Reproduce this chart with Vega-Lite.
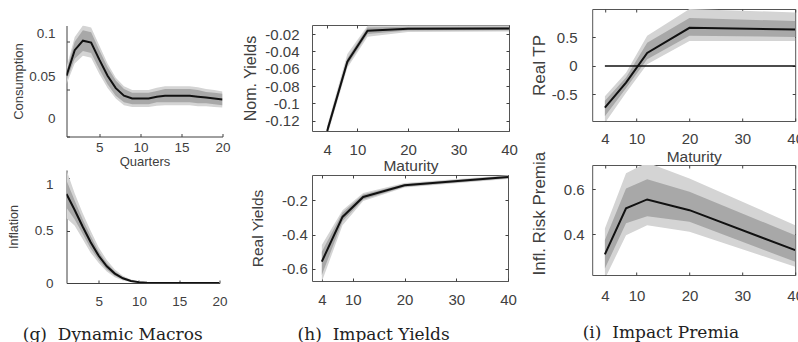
{
  "$schema": "https://vega.github.io/schema/vega-lite/v6.json",
  "background": "white",
  "padding": {"left": 7.5, "top": 8, "right": 0, "bottom": 0},
  "autosize": {"type": "pad"},
  "config": {
    "font": "Liberation Sans",
    "axis": {"labelFont": "Liberation Sans", "titleFont": "Liberation Sans", "labelColor": "#404040", "titleColor": "#404040", "titleFontWeight": "normal", "grid": false, "tickColor": "#404040", "domainColor": "#404040", "tickSize": -3, "labelFlush": false, "labelOverlap": false},
    "title": {"font": "DejaVu Serif", "fontWeight": "normal", "color": "#222222", "fontSize": 17, "dx": -6},
    "view": {"stroke": null}
  },
  "datasets": {
    "cons": [
      {"q": 1, "m": 0.064, "lo1": 0.059, "hi1": 0.069, "lo2": 0.055, "hi2": 0.073},
      {"q": 2, "m": 0.091, "lo1": 0.082, "hi1": 0.100, "lo2": 0.077, "hi2": 0.105},
      {"q": 3, "m": 0.101, "lo1": 0.090, "hi1": 0.112, "lo2": 0.085, "hi2": 0.117},
      {"q": 4, "m": 0.099, "lo1": 0.088, "hi1": 0.110, "lo2": 0.083, "hi2": 0.115},
      {"q": 5, "m": 0.081, "lo1": 0.071, "hi1": 0.091, "lo2": 0.066, "hi2": 0.096},
      {"q": 6, "m": 0.064, "lo1": 0.055, "hi1": 0.073, "lo2": 0.051, "hi2": 0.077},
      {"q": 7, "m": 0.051, "lo1": 0.043, "hi1": 0.059, "lo2": 0.040, "hi2": 0.062},
      {"q": 8, "m": 0.043, "lo1": 0.036, "hi1": 0.050, "lo2": 0.033, "hi2": 0.053},
      {"q": 9, "m": 0.040, "lo1": 0.034, "hi1": 0.046, "lo2": 0.031, "hi2": 0.049},
      {"q": 10, "m": 0.040, "lo1": 0.034, "hi1": 0.046, "lo2": 0.031, "hi2": 0.049},
      {"q": 11, "m": 0.040, "lo1": 0.034, "hi1": 0.046, "lo2": 0.031, "hi2": 0.049},
      {"q": 12, "m": 0.042, "lo1": 0.036, "hi1": 0.048, "lo2": 0.0325, "hi2": 0.0515},
      {"q": 13, "m": 0.043, "lo1": 0.036, "hi1": 0.050, "lo2": 0.033, "hi2": 0.053},
      {"q": 14, "m": 0.043, "lo1": 0.036, "hi1": 0.050, "lo2": 0.033, "hi2": 0.053},
      {"q": 15, "m": 0.043, "lo1": 0.036, "hi1": 0.050, "lo2": 0.033, "hi2": 0.053},
      {"q": 16, "m": 0.043, "lo1": 0.036, "hi1": 0.050, "lo2": 0.033, "hi2": 0.053},
      {"q": 17, "m": 0.042, "lo1": 0.035, "hi1": 0.049, "lo2": 0.032, "hi2": 0.052},
      {"q": 18, "m": 0.041, "lo1": 0.035, "hi1": 0.047, "lo2": 0.032, "hi2": 0.050},
      {"q": 19, "m": 0.040, "lo1": 0.034, "hi1": 0.046, "lo2": 0.031, "hi2": 0.049},
      {"q": 20, "m": 0.039, "lo1": 0.033, "hi1": 0.045, "lo2": 0.0305, "hi2": 0.0475}
    ],
    "infl": [
      {"q": 1, "m": 0.85, "lo1": 0.72, "hi1": 0.98, "lo2": 0.62, "hi2": 1.08},
      {"q": 2, "m": 0.70, "lo1": 0.61, "hi1": 0.79, "lo2": 0.55, "hi2": 0.86},
      {"q": 3, "m": 0.54, "lo1": 0.47, "hi1": 0.61, "lo2": 0.42, "hi2": 0.67},
      {"q": 4, "m": 0.39, "lo1": 0.33, "hi1": 0.45, "lo2": 0.29, "hi2": 0.50},
      {"q": 5, "m": 0.26, "lo1": 0.22, "hi1": 0.30, "lo2": 0.19, "hi2": 0.34},
      {"q": 6, "m": 0.16, "lo1": 0.13, "hi1": 0.19, "lo2": 0.11, "hi2": 0.22},
      {"q": 7, "m": 0.09, "lo1": 0.07, "hi1": 0.11, "lo2": 0.055, "hi2": 0.13},
      {"q": 8, "m": 0.045, "lo1": 0.034, "hi1": 0.058, "lo2": 0.025, "hi2": 0.07},
      {"q": 9, "m": 0.02, "lo1": 0.014, "hi1": 0.027, "lo2": 0.009, "hi2": 0.034},
      {"q": 10, "m": 0.008, "lo1": 0.005, "hi1": 0.012, "lo2": 0.003, "hi2": 0.016},
      {"q": 11, "m": 0.003, "lo1": 0.001, "hi1": 0.005, "lo2": 0, "hi2": 0.007},
      {"q": 12, "m": 0.001, "lo1": 0, "hi1": 0.002, "lo2": 0, "hi2": 0.003},
      {"q": 13, "m": 0, "lo1": 0, "hi1": 0.0005, "lo2": 0, "hi2": 0.001},
      {"q": 14, "m": 0, "lo1": 0, "hi1": 0, "lo2": 0, "hi2": 0},
      {"q": 15, "m": 0, "lo1": 0, "hi1": 0, "lo2": 0, "hi2": 0},
      {"q": 16, "m": 0, "lo1": 0, "hi1": 0, "lo2": 0, "hi2": 0},
      {"q": 17, "m": 0, "lo1": 0, "hi1": 0, "lo2": 0, "hi2": 0},
      {"q": 18, "m": 0, "lo1": 0, "hi1": 0, "lo2": 0, "hi2": 0},
      {"q": 19, "m": 0, "lo1": 0, "hi1": 0, "lo2": 0, "hi2": 0},
      {"q": 20, "m": 0, "lo1": 0, "hi1": 0, "lo2": 0, "hi2": 0}
    ],
    "nom": [
      {"mat": 4, "m": -0.132, "lo1": -0.136, "hi1": -0.128, "lo2": -0.138, "hi2": -0.126},
      {"mat": 8, "m": -0.052, "lo1": -0.056, "hi1": -0.048, "lo2": -0.059, "hi2": -0.043},
      {"mat": 12, "m": -0.0162, "lo1": -0.020, "hi1": -0.0125, "lo2": -0.023, "hi2": -0.0105},
      {"mat": 20, "m": -0.0137, "lo1": -0.016, "hi1": -0.0115, "lo2": -0.0175, "hi2": -0.010},
      {"mat": 40, "m": -0.0135, "lo1": -0.0155, "hi1": -0.0115, "lo2": -0.017, "hi2": -0.010}
    ],
    "real": [
      {"mat": 4, "m": -0.557, "lo1": -0.635, "hi1": -0.50, "lo2": -0.674, "hi2": -0.461},
      {"mat": 8, "m": -0.297, "lo1": -0.322, "hi1": -0.272, "lo2": -0.345, "hi2": -0.258},
      {"mat": 12, "m": -0.181, "lo1": -0.196, "hi1": -0.166, "lo2": -0.205, "hi2": -0.158},
      {"mat": 20, "m": -0.113, "lo1": -0.121, "hi1": -0.105, "lo2": -0.126, "hi2": -0.100},
      {"mat": 40, "m": -0.065, "lo1": -0.072, "hi1": -0.058, "lo2": -0.076, "hi2": -0.055}
    ],
    "tp": [
      {"mat": 4, "m": -0.73, "lo1": -0.88, "hi1": -0.61, "lo2": -1.0, "hi2": -0.53},
      {"mat": 8, "m": -0.29, "lo1": -0.39, "hi1": -0.20, "lo2": -0.47, "hi2": -0.12},
      {"mat": 12, "m": 0.23, "lo1": 0.12, "hi1": 0.41, "lo2": 0.03, "hi2": 0.53},
      {"mat": 20, "m": 0.67, "lo1": 0.53, "hi1": 0.84, "lo2": 0.44, "hi2": 1.0},
      {"mat": 40, "m": 0.64, "lo1": 0.51, "hi1": 0.79, "lo2": 0.44, "hi2": 0.94}
    ],
    "irp": [
      {"mat": 4, "m": 0.309, "lo1": 0.246, "hi1": 0.373, "lo2": 0.20, "hi2": 0.425},
      {"mat": 8, "m": 0.515, "lo1": 0.448, "hi1": 0.604, "lo2": 0.395, "hi2": 0.672},
      {"mat": 12, "m": 0.555, "lo1": 0.48, "hi1": 0.645, "lo2": 0.44, "hi2": 0.72},
      {"mat": 20, "m": 0.507, "lo1": 0.455, "hi1": 0.589, "lo2": 0.41, "hi2": 0.649},
      {"mat": 40, "m": 0.328, "lo1": 0.276, "hi1": 0.395, "lo2": 0.254, "hi2": 0.44}
    ],
    "zero": [{"mat": 4, "mat2": 40, "m": 0}],
    "blank": [{"e": 0}]
  },
  "hconcat": [
    {
      "spacing": 10.5,
      "hconcat": [
        {
          "title": {"text": "(g)\u00a0 Dynamic Macros", "orient": "bottom", "anchor": "middle", "offset": 19.5},
          "spacing": 1.5,
          "vconcat": [
            {"width": 150, "height": 14.5, "data": {"name": "blank"}, "mark": {"type": "point", "opacity": 0, "size": 1}},
            {
              "width": 156, "height": 111,
              "data": {"name": "cons"},
              "encoding": {"x": {"field": "q", "type": "quantitative", "title": "Quarters", "scale": {"domain": [1, 20], "nice": false, "zero": false}, "axis": {"values": [5, 10, 15, 20], "labelOverlap": false, "labelFontSize": 13.5, "titleFontSize": 13, "labelPadding": 7, "minExtent": 12, "maxExtent": 12, "titlePadding": 7}}},
              "layer": [
                {"mark": {"type": "area", "color": "#d4d4d4", "clip": true}, "encoding": {"y": {"field": "lo2", "type": "quantitative", "title": "Consumption", "scale": {"domain": [0, 0.117], "nice": false, "zero": false}, "axis": {"values": [0, 0.05, 0.1], "format": "~g", "labelOverlap": false, "labelFontSize": 13.5, "titleFontSize": 13, "labelPadding": 14.5, "minExtent": 38, "maxExtent": 38, "titlePadding": 3.5, "labelOffset": {"condition": [{"test": "datum.value < 0.01", "value": -18}, {"test": "datum.value < 0.07", "value": -13}], "value": -8}}}, "y2": {"field": "hi2"}}},
                {"mark": {"type": "area", "color": "#a8a8a8", "clip": true}, "encoding": {"y": {"field": "lo1", "type": "quantitative", "title": "Consumption"}, "y2": {"field": "hi1"}}},
                {"mark": {"type": "line", "color": "#111111", "strokeWidth": 2, "clip": true}, "encoding": {"y": {"field": "m", "type": "quantitative", "title": "Consumption"}}}
              ]
            },
            {
              "width": 153, "height": 113,
              "data": {"name": "infl"},
              "encoding": {"x": {"field": "q", "type": "quantitative", "title": null, "scale": {"domain": [1, 20], "nice": false, "zero": false}, "axis": {"values": [5, 10, 15, 20], "labelOverlap": false, "labelFontSize": 13.5, "labelPadding": 14}}},
              "layer": [
                {"mark": {"type": "area", "color": "#d4d4d4", "clip": true}, "encoding": {"y": {"field": "lo2", "type": "quantitative", "title": "Inflation", "scale": {"domain": [0, 1.08], "nice": false, "zero": false}, "axis": {"values": [0, 0.5, 1], "format": "~g", "labelOverlap": false, "labelFontSize": 13.5, "titleFontSize": 12.5, "labelPadding": 16.5, "minExtent": 32.3, "maxExtent": 32.3, "titlePadding": 13.7, "labelOffset": {"condition": {"test": "datum.value > 0.9", "value": 6}, "value": 0}}}, "y2": {"field": "hi2"}}},
                {"mark": {"type": "area", "color": "#a8a8a8", "clip": true}, "encoding": {"y": {"field": "lo1", "type": "quantitative", "title": "Inflation"}, "y2": {"field": "hi1"}}},
                {"mark": {"type": "line", "color": "#111111", "strokeWidth": 2, "clip": true}, "encoding": {"y": {"field": "m", "type": "quantitative", "title": "Inflation"}}}
              ]
            }
          ]
        },
        {
          "title": {"text": "(h)\u00a0 Impact Yields", "orient": "bottom", "anchor": "middle", "offset": 19.9},
          "spacing": 0,
          "vconcat": [
            {"width": 150, "height": 15, "data": {"name": "blank"}, "mark": {"type": "point", "opacity": 0, "size": 1}},
            {
              "width": 197, "height": 106,
              "view": {"stroke": "#555555"},
              "data": {"name": "nom"},
              "encoding": {"x": {"field": "mat", "type": "quantitative", "title": "Maturity", "scale": {"domain": [1, 40], "nice": false, "zero": false}}},
              "resolve": {"axis": {"x": "independent", "y": "independent"}},
              "layer": [
                {"mark": {"type": "area", "color": "#d4d4d4", "clip": true}, "encoding": {"x": {"field": "mat", "type": "quantitative", "title": "Maturity", "axis": {"values": [4, 10, 20, 30, 40], "labelOverlap": false, "domain": false, "labelFontSize": 15, "titleFontSize": 15.5, "labelPadding": 14, "minExtent": 20, "maxExtent": 20, "titlePadding": 7}}, "y": {"field": "lo2", "type": "quantitative", "title": "Nom. Yields", "scale": {"domain": [-0.132, -0.0095], "nice": false, "zero": false}, "axis": {"values": [-0.12, -0.1, -0.08, -0.06, -0.04, -0.02], "tickCount": 6, "labelExpr": "'' + datum.value", "labelOverlap": false, "domain": false, "labelFontSize": 15, "titleFontSize": 16, "labelPadding": 16, "minExtent": 47.2, "maxExtent": 47.2, "titlePadding": 6.8}}, "y2": {"field": "hi2"}}},
                {"mark": {"type": "area", "color": "#a8a8a8", "clip": true}, "encoding": {"x": {"field": "mat", "type": "quantitative", "axis": null}, "y": {"field": "lo1", "type": "quantitative", "axis": null}, "y2": {"field": "hi1"}}},
                {"mark": {"type": "line", "color": "#111111", "strokeWidth": 2, "clip": true}, "encoding": {"x": {"field": "mat", "type": "quantitative", "axis": null}, "y": {"field": "m", "type": "quantitative", "axis": null}}},
                {"mark": {"type": "line", "opacity": 0}, "encoding": {"x": {"field": "mat", "type": "quantitative", "axis": {"orient": "top", "values": [4, 10, 20, 30, 40], "labels": false, "domain": false, "title": null, "minExtent": 0, "maxExtent": 0}}, "y": {"field": "m", "type": "quantitative", "axis": {"orient": "right", "values": [-0.12, -0.1, -0.08, -0.06, -0.04, -0.02], "tickCount": 6, "labels": false, "domain": false, "title": null, "minExtent": 0, "maxExtent": 0}}}}
              ]
            },
            {
              "width": 196, "height": 106,
              "view": {"stroke": "#555555"},
              "data": {"name": "real"},
              "resolve": {"axis": {"x": "independent", "y": "independent"}},
              "layer": [
                {"mark": {"type": "area", "color": "#d4d4d4", "clip": true}, "encoding": {"x": {"field": "mat", "type": "quantitative", "title": null, "scale": {"domain": [2.1, 40], "nice": false, "zero": false}, "axis": {"values": [4, 10, 20, 30, 40], "labelOverlap": false, "domain": false, "labelFontSize": 15, "labelPadding": 14}}, "y": {"field": "lo2", "type": "quantitative", "title": "Real Yields", "scale": {"domain": [-0.67, -0.053], "nice": false, "zero": false}, "axis": {"values": [-0.6, -0.4, -0.2], "labelExpr": "'' + datum.value", "labelOverlap": false, "domain": false, "labelFontSize": 15, "titleFontSize": 15.5, "labelPadding": 7.7, "minExtent": 30.5, "maxExtent": 30.5, "titlePadding": 16}}, "y2": {"field": "hi2"}}},
                {"mark": {"type": "area", "color": "#a8a8a8", "clip": true}, "encoding": {"x": {"field": "mat", "type": "quantitative", "axis": null}, "y": {"field": "lo1", "type": "quantitative", "axis": null}, "y2": {"field": "hi1"}}},
                {"mark": {"type": "line", "color": "#111111", "strokeWidth": 2, "clip": true}, "encoding": {"x": {"field": "mat", "type": "quantitative", "axis": null}, "y": {"field": "m", "type": "quantitative", "axis": null}}},
                {"mark": {"type": "line", "opacity": 0}, "encoding": {"x": {"field": "mat", "type": "quantitative", "axis": {"orient": "top", "values": [4, 10, 20, 30, 40], "labels": false, "domain": false, "title": null, "minExtent": 0, "maxExtent": 0}}, "y": {"field": "m", "type": "quantitative", "axis": {"orient": "right", "values": [-0.6, -0.4, -0.2], "labels": false, "domain": false, "title": null, "minExtent": 0, "maxExtent": 0}}}}
              ]
            }
          ]
        }
      ]
    },
    {
      "title": {"text": "(i)\u00a0 Impact Premia", "orient": "bottom", "anchor": "middle", "offset": 21.9},
      "spacing": -16,
      "vconcat": [
        {
          "width": 203, "height": 112,
          "view": {"stroke": "#555555"},
          "data": {"name": "tp"},
          "resolve": {"axis": {"x": "independent", "y": "independent"}},
          "layer": [
            {"mark": {"type": "area", "color": "#d4d4d4", "clip": true}, "encoding": {"x": {"field": "mat", "type": "quantitative", "title": "Maturity", "scale": {"domain": [1.6, 40], "nice": false, "zero": false}, "axis": {"values": [4, 10, 20, 30, 40], "labelOverlap": false, "domain": false, "labelFontSize": 15, "titleFontSize": 15.5, "labelPadding": 13, "minExtent": 20, "maxExtent": 20, "titlePadding": 8}}, "y": {"field": "lo2", "type": "quantitative", "title": "Real TP", "scale": {"domain": [-0.965, 1.0], "nice": false, "zero": false}, "axis": {"values": [-0.5, 0, 0.5], "labelExpr": "'' + datum.value", "labelOverlap": false, "domain": false, "labelFontSize": 15, "titleFontSize": 17, "labelPadding": 18, "minExtent": 41, "maxExtent": 41, "titlePadding": 3}}, "y2": {"field": "hi2"}}},
            {"mark": {"type": "area", "color": "#a8a8a8", "clip": true}, "encoding": {"x": {"field": "mat", "type": "quantitative", "axis": null}, "y": {"field": "lo1", "type": "quantitative", "axis": null}, "y2": {"field": "hi1"}}},
            {"mark": {"type": "line", "color": "#111111", "strokeWidth": 2, "clip": true}, "encoding": {"x": {"field": "mat", "type": "quantitative", "axis": null}, "y": {"field": "m", "type": "quantitative", "axis": null}}},
            {"data": {"name": "zero"}, "mark": {"type": "rule", "color": "#111111", "strokeWidth": 1.5}, "encoding": {"x": {"field": "mat", "type": "quantitative", "axis": null}, "x2": {"field": "mat2"}, "y": {"field": "m", "type": "quantitative", "axis": null}}},
            {"mark": {"type": "line", "opacity": 0}, "encoding": {"x": {"field": "mat", "type": "quantitative", "axis": {"orient": "top", "values": [4, 10, 20, 30, 40], "labels": false, "domain": false, "title": null, "minExtent": 0, "maxExtent": 0}}, "y": {"field": "m", "type": "quantitative", "axis": {"orient": "right", "values": [-0.5, 0, 0.5], "labels": false, "domain": false, "title": null, "minExtent": 0, "maxExtent": 0}}}}
          ]
        },
        {
          "width": 203, "height": 110,
          "view": {"stroke": "#555555"},
          "data": {"name": "irp"},
          "resolve": {"axis": {"x": "independent", "y": "independent"}},
          "layer": [
            {"mark": {"type": "area", "color": "#d4d4d4", "clip": true}, "encoding": {"x": {"field": "mat", "type": "quantitative", "title": null, "scale": {"domain": [1.6, 40], "nice": false, "zero": false}, "axis": {"values": [4, 10, 20, 30, 40], "labelOverlap": false, "domain": false, "labelFontSize": 15, "labelPadding": 16}}, "y": {"field": "lo2", "type": "quantitative", "title": "Infl. Risk Premia", "scale": {"domain": [0.217, 0.709], "nice": false, "zero": false}, "axis": {"values": [0.4, 0.6], "labelExpr": "'' + datum.value", "labelOverlap": false, "domain": false, "labelFontSize": 15, "titleFontSize": 17, "titleAnchor": "start", "labelPadding": 11, "minExtent": 29, "maxExtent": 29, "titlePadding": 15}}, "y2": {"field": "hi2"}}},
            {"mark": {"type": "area", "color": "#a8a8a8", "clip": true}, "encoding": {"x": {"field": "mat", "type": "quantitative", "axis": null}, "y": {"field": "lo1", "type": "quantitative", "axis": null}, "y2": {"field": "hi1"}}},
            {"mark": {"type": "line", "color": "#111111", "strokeWidth": 2, "clip": true}, "encoding": {"x": {"field": "mat", "type": "quantitative", "axis": null}, "y": {"field": "m", "type": "quantitative", "axis": null}}},
            {"mark": {"type": "line", "opacity": 0}, "encoding": {"x": {"field": "mat", "type": "quantitative", "axis": {"orient": "top", "values": [4, 10, 20, 30, 40], "labels": false, "domain": false, "title": null, "minExtent": 0, "maxExtent": 0}}, "y": {"field": "m", "type": "quantitative", "axis": {"orient": "right", "values": [0.4, 0.6], "labels": false, "domain": false, "title": null, "minExtent": 0, "maxExtent": 0}}}}
          ]
        }
      ]
    }
  ],
  "spacing": 10.7
}
